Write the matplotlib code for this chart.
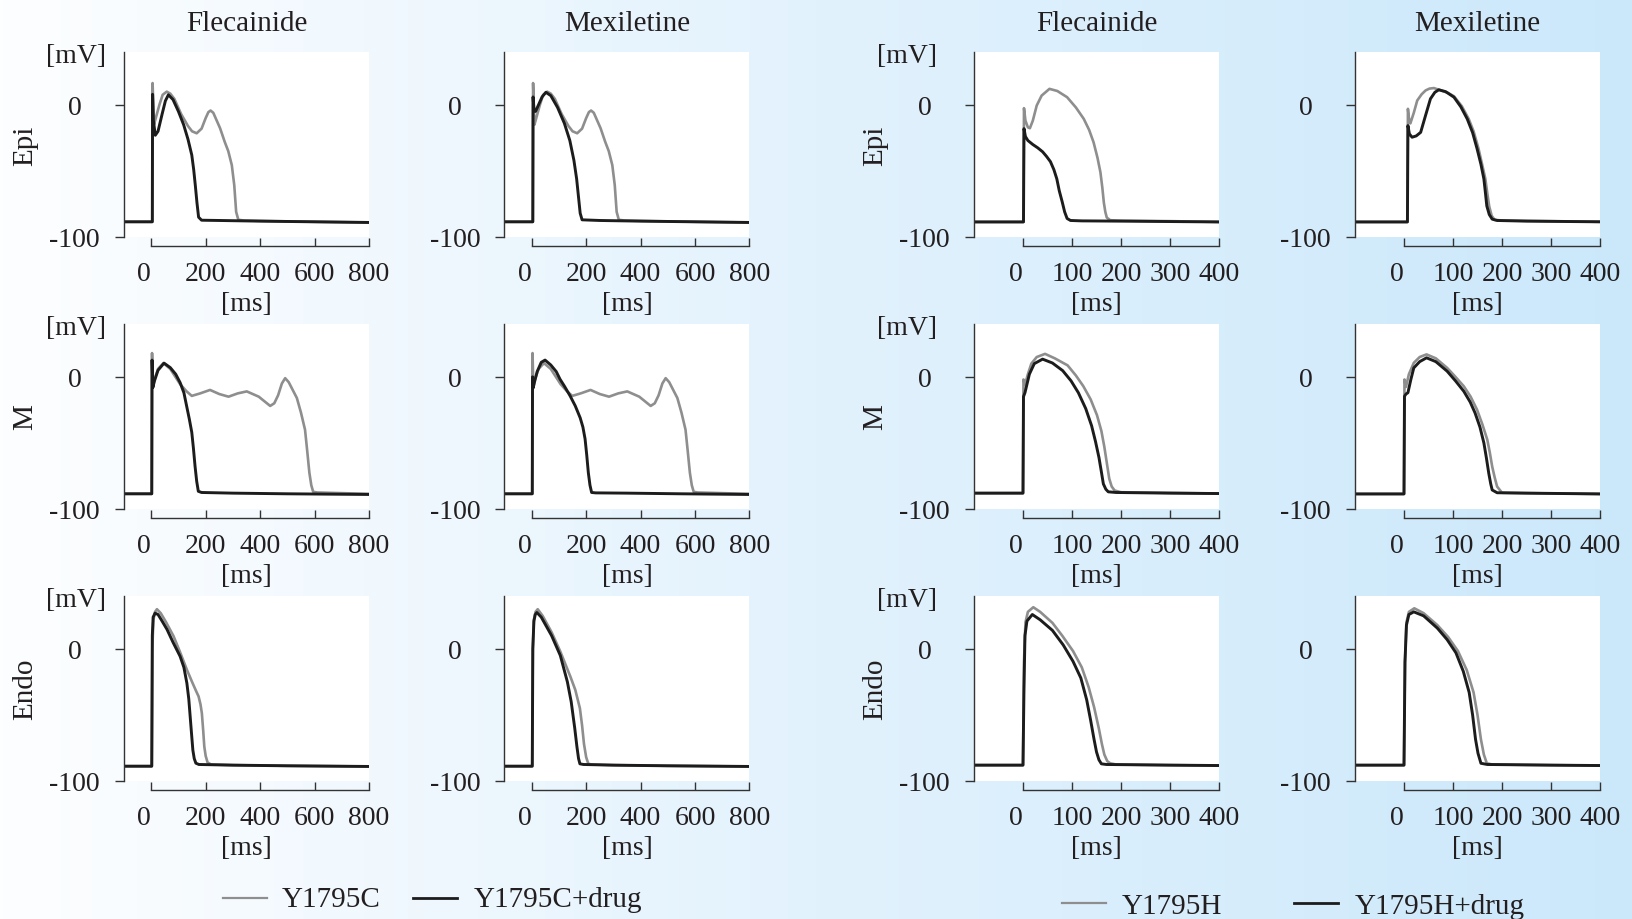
import numpy as np
import matplotlib
matplotlib.use("Agg")
import matplotlib.pyplot as plt
from matplotlib.lines import Line2D
from matplotlib.transforms import ScaledTranslation

plt.rcParams['font.family'] = ['Liberation Serif', 'DejaVu Serif']
plt.rcParams['axes.unicode_minus'] = False

TXT = '#231f20'
GRAY = '#8e8e8e'
BLACK = '#1c1c1c'

# ---------------- Y1795C (left block, 0..800 ms) ----------------
# Epi, no drug (same trace in Flecainide and Mexiletine panels)
epi_c_t = [-100, 4, 5, 7, 10, 18, 30, 42, 57, 70, 85, 110, 135, 150, 167, 185, 200, 210,
           218, 228, 253, 270, 283, 296, 305, 312, 320, 340, 450, 600, 800]
epi_c_v = [-88.5, -88.5, 16.5, 4, -15, -9, 0, 7.6, 10, 8.5, 4.5, -7, -16, -20, -21.5, -18, -10, -5.5,
           -4.3, -6, -17.7, -28, -35, -45.6, -60.7, -81, -87, -87.5, -88, -88.5, -89]
# Epi + flecainide
epi_c_flec_t = [-100, 4, 5, 8, 15, 25, 40, 52, 63, 80, 100, 119, 135, 149, 156, 162, 168, 174,
                185, 250, 400, 600, 800]
epi_c_flec_v = [-88.5, -88.5, 8, -12, -23, -20, -7, 3, 7.6, 4, -5, -15, -26, -38, -49, -61, -74, -85,
                -87.3, -87.5, -88, -88.5, -89]
# Epi + mexiletine
epi_c_mex_t = [-100, 4, 5, 8, 14, 25, 38, 52, 70, 95, 120, 140, 155, 165, 172, 178, 185, 250,
               400, 600, 800]
epi_c_mex_v = [-88.5, -88.5, 6, -3, -5, 0, 6, 9.5, 7, -2, -14, -27, -42, -56, -70, -82, -87, -87.5,
               -88, -88.5, -89]

# M, no drug
m_c_t = [-100, 2, 3, 6, 12, 25, 45, 70, 106, 130, 149, 180, 216, 250, 284, 318, 351, 395, 437,
         452, 466, 480, 492, 505, 520, 535, 550, 565, 573, 581, 588, 595, 610, 700, 800]
m_c_v = [-88.5, -88.5, 18, -8, -2, 6, 10.4, 6, -5.5, -11, -14.4, -12.5, -9.9, -13, -15, -12.5, -11, -15, -22,
         -20, -14, -5, -1, -4, -10, -16, -27, -40, -56, -72.6, -82, -87, -87.5, -88, -88.5]
# M + flecainide
m_c_flec_t = [-100, 2, 3, 6, 12, 25, 47, 70, 90, 106, 120, 130, 140, 149, 155, 161, 167, 173,
              185, 300, 500, 800]
m_c_flec_v = [-88.5, -88.5, 12.7, -8, -3, 5, 10.4, 7, 2, -4.3, -12, -22, -32, -42, -54, -67.6, -79, -86.6,
              -87.5, -88, -88.5, -89]
# M + mexiletine
m_c_mex_t = [-100, 2, 3, 5, 10, 20, 35, 49, 70, 90, 104, 120, 141, 160, 178, 188, 196, 202, 208,
             214, 220, 235, 350, 550, 800]
m_c_mex_v = [-88.5, -88.5, 0, -8.5, -4, 4, 11, 12.7, 9, 4, -1.8, -7, -14.4, -22, -31, -38, -47, -59, -72.6,
             -82, -87.5, -87.8, -88, -88.5, -89]

# Endo, no drug (Flecainide panel / Mexiletine panel)
endo_c_t = [-100, 2, 4, 8, 14, 21, 35, 55, 82, 105, 131, 150, 165, 174, 181, 186, 191, 195, 200,
            207, 220, 300, 500, 800]
endo_c_v = [-88.8, -88.8, 0, 22, 28, 30, 27, 20, 9.6, -2, -15.8, -25, -32, -36, -42, -48.7, -62, -74, -81,
            -86, -87.5, -88, -88.5, -89]
endo_c_flec_t = [-100, 2, 4, 7, 14, 25, 40, 58, 80, 106, 120, 131, 138, 143, 148, 153, 158, 164,
                 175, 300, 500, 800]
endo_c_flec_v = [-88.8, -88.8, 10, 24, 27, 26, 21, 14.7, 5, -5.6, -14, -26, -38, -51, -64, -76.7, -83, -86.5,
                 -87.5, -88, -88.5, -89]
endo_c2_t = [-100, 2, 4, 8, 14, 22, 40, 73, 105, 142, 160, 177, 185, 192, 200, 208, 220, 300, 500, 800]
endo_c2_v = [-88.8, -88.8, 0, 22, 28, 30, 25, 12.6, -2, -21, -31, -45, -58, -72, -82, -87, -87.5, -88,
             -88.5, -89]
endo_c_mex_t = [-100, 2, 4, 8, 13, 19, 35, 73, 105, 131, 145, 158, 166, 172, 177, 190, 300, 500, 800]
endo_c_mex_v = [-88.8, -88.8, 0, 21, 26, 27.5, 24, 10, -5, -25, -40, -60, -74, -83, -87, -87.5, -88,
                -88.5, -89]

# ---------------- Y1795H (right block, 0..400 ms) ----------------
epi_h1_t = [-100, 1, 2, 5, 10, 14, 20, 28, 38, 54, 70, 90, 108, 124, 135, 144, 152, 158, 162,
            165, 168, 171, 178, 200, 300, 400]
epi_h1_v = [-88.6, -88.6, -2.5, -12, -17, -17.7, -12, -0.5, 7, 12.1, 10.5, 5.8, -2, -10.6, -19, -28.3, -40,
            -51, -63, -74, -81, -85.3, -87.3, -87.6, -88, -88.6]
epi_h_flec_t = [-100, 1, 2, 5, 10, 20, 30, 40, 48, 56, 63, 69, 74, 80, 85, 90, 97, 120, 200, 300, 400]
epi_h_flec_v = [-88.6, -88.6, -18, -24, -27, -30, -32.5, -35.5, -39, -43, -49, -56, -65, -73.4, -81, -86,
                -87.5, -87.8, -88, -88.3, -88.6]
epi_h2_t = [-100, 7, 8, 10, 13, 20, 27, 36, 44, 52, 61, 75, 90, 102, 118, 132, 142, 152, 160,
            166, 170, 174, 179, 185, 200, 300, 400]
epi_h2_v = [-88.6, -88.6, -3, -10, -14, -6, 3.3, 8, 10.9, 12.3, 12.7, 11, 9, 6.5, -1, -10.6, -20, -33, -46,
            -56, -67, -77, -84, -87, -87.5, -88, -88.5]
epi_h_mex_t = [-100, 7, 8, 11, 16.5, 25, 34, 44, 54, 63, 71, 85, 102, 116, 129, 140, 149, 157,
               163, 166, 169, 174, 180, 190, 250, 400]
epi_h_mex_v = [-88.6, -88.6, -15.7, -22, -24.5, -23.5, -20.8, -8, 4.6, 9.5, 11.4, 10, 5.8, -1.5, -10.6, -21,
               -33, -45, -56, -66, -76.5, -83, -86.5, -87.5, -88, -88.5]

m_h1_t = [-100, 0, 1, 4, 10, 17, 28, 45, 65, 91, 108, 123, 138, 151, 160, 166, 171, 176, 181,
          187, 200, 300, 400]
m_h1_v = [-88, -88, -2, -6, 2, 10, 15, 17.4, 14, 8.7, 1, -7, -17, -29, -41, -53, -65, -77, -83, -86,
          -87.3, -87.8, -88.3]
m_h_flec_t = [-100, 0, 1, 4, 13, 23, 40, 60, 81, 98, 113, 128, 140, 148, 155, 160, 164, 169, 174,
              190, 300, 400]
m_h_flec_v = [-88, -88, -15, -12, 2, 10, 13.4, 10.5, 4.7, -3, -12, -24, -37, -49, -61, -72, -81, -85, -87,
              -87.5, -88, -88.3]
m_h2_t = [-100, 0, 1, 4, 10, 20, 32, 46, 65, 88, 105, 122, 136, 149, 160, 170, 175, 180, 185,
          190, 200, 250, 400]
m_h2_v = [-88.6, -88.6, -2, -7.6, 2, 10.6, 15, 17, 14, 6.8, 0, -7.1, -15, -24.8, -36, -47.6, -57, -67.9,
          -76, -83, -87.7, -88, -88.6]
m_h_mex_t = [-100, 0, 1, 4, 8, 14, 20, 32, 46, 65, 88, 105, 122, 135, 145, 155, 163, 168, 173,
             177, 180, 190, 250, 400]
m_h_mex_v = [-88.6, -88.6, -14.7, -13, -12, -2, 6.8, 11.5, 14.4, 11.5, 4.3, -3, -10.9, -19, -27.3, -38,
             -50, -61, -73, -81, -85.6, -87.7, -88, -88.6]

endo_h1_t = [-100, 0, 2, 5, 10, 21, 35, 60, 80, 102, 120, 134, 145, 155, 161, 166, 172, 178,
             190, 300, 400]
endo_h1_v = [-88, -88, -10, 20, 28, 31.5, 28, 19.7, 10, -1.6, -14, -29, -44, -60.6, -72, -80, -85, -86.6,
             -87.5, -88, -88.3]
endo_h_flec_t = [-100, 0, 2, 4, 8, 19, 35, 60, 82, 102, 118, 130, 138, 145, 150, 155, 160, 170,
                 300, 400]
endo_h_flec_v = [-88, -88, -30, 10, 21, 26, 22, 14, 3, -9.4, -22, -38.6, -54, -68.5, -78, -84, -87,
                 -87.5, -88, -88.3]
endo_h2_t = [-100, 0, 2, 5, 10, 21, 40, 68, 90, 110, 128, 142, 150, 157, 163, 169, 180, 300, 400]
endo_h2_v = [-88, -88, -10, 20, 28, 30.7, 27, 18, 9, -1.6, -16, -33, -50, -68.5, -80, -86.6, -87.5, -88,
             -88.3]
endo_h_mex_t = [-100, 0, 2, 5, 10, 20, 40, 68, 88, 106, 121, 133, 140, 146, 151, 157, 170, 300, 400]
endo_h_mex_v = [-88, -88, -10, 18, 26, 28, 25, 15.7, 7, -3, -17, -33, -50, -68.5, -79, -86.6, -87.5,
                -88, -88.3]

titles = ['Flecainide', 'Mexiletine', 'Flecainide', 'Mexiletine']
rows = ['Epi', 'M', 'Endo']
xticks_c = [0, 200, 400, 600, 800]
xticks_h = [0, 100, 200, 300, 400]
yticks = [-100, 0]
ytick_labels = ['-100', '0']

# (row, col, gray trace, black trace)
panels = [
    (0, 0, (epi_c_t, epi_c_v), (epi_c_flec_t, epi_c_flec_v)),
    (0, 1, (epi_c_t, epi_c_v), (epi_c_mex_t, epi_c_mex_v)),
    (0, 2, (epi_h1_t, epi_h1_v), (epi_h_flec_t, epi_h_flec_v)),
    (0, 3, (epi_h2_t, epi_h2_v), (epi_h_mex_t, epi_h_mex_v)),
    (1, 0, (m_c_t, m_c_v), (m_c_flec_t, m_c_flec_v)),
    (1, 1, (m_c_t, m_c_v), (m_c_mex_t, m_c_mex_v)),
    (1, 2, (m_h1_t, m_h1_v), (m_h_flec_t, m_h_flec_v)),
    (1, 3, (m_h2_t, m_h2_v), (m_h_mex_t, m_h_mex_v)),
    (2, 0, (endo_c_t, endo_c_v), (endo_c_flec_t, endo_c_flec_v)),
    (2, 1, (endo_c2_t, endo_c2_v), (endo_c_mex_t, endo_c_mex_v)),
    (2, 2, (endo_h1_t, endo_h1_v), (endo_h_flec_t, endo_h_flec_v)),
    (2, 3, (endo_h2_t, endo_h2_v), (endo_h_mex_t, endo_h_mex_v)),
]

W, H = 1633, 920
fig = plt.figure(figsize=(W / 100, H / 100), dpi=100)

# background: white on the left fading to light blue on the right
bg = fig.add_axes([0, 0, 1, 1], zorder=-10)
xs = np.linspace(0, 1, 512)
stops = np.array([[253, 254, 255], [226, 242, 253], [203, 232, 251]]) / 255
grad = np.stack([np.interp(xs, [0, 0.5, 1], stops[:, k]) for k in range(3)], axis=-1)[None, :, :]
bg.imshow(grad, aspect='auto', extent=[0, 1, 0, 1])
bg.axis('off')

col_left = [124, 504.5, 974, 1355]
row_top = [53, 325, 597]
aw, ah = 245, 185

for r, c, gray, black in panels:
    ax = fig.add_axes([col_left[c] / W, 1 - (row_top[r] + ah) / H, aw / W, ah / H])
    ax.set_facecolor('white')
    ax.plot(gray[0], gray[1], color=GRAY, lw=1.9, solid_joinstyle='round')
    ax.plot(black[0], black[1], color=BLACK, lw=2.1, solid_joinstyle='round')

    xmax = 800 if c < 2 else 400
    xt = xticks_c if c < 2 else xticks_h
    ax.set_xlim(-100, xmax)
    ax.set_ylim(-100, 40)
    for s in ['top', 'right']:
        ax.spines[s].set_visible(False)
    for s in ['left', 'bottom']:
        ax.spines[s].set_color('#333333')
        ax.spines[s].set_linewidth(1.0)
    ax.spines['bottom'].set_position(('outward', 6.5))
    ax.spines['bottom'].set_bounds(0, xmax)

    ax.set_xticks(xt)
    ax.set_xticklabels([str(v) for v in xt])
    ax.set_yticks(yticks)
    ax.set_yticklabels(ytick_labels)
    ax.tick_params(axis='x', direction='in', length=6, width=1.0, pad=10.8,
                   labelsize=20, colors='#333333', labelcolor=TXT)
    ax.tick_params(axis='y', direction='out', length=6.5, width=1.0, pad=29,
                   labelsize=20, colors='#333333', labelcolor=TXT)
    plt.setp(ax.get_yticklabels(), ha='center')
    zero = ax.get_xticklabels()[0]
    zero.set_transform(zero.get_transform() + ScaledTranslation(-7 / 100, 0, fig.dpi_scale_trans))

    ax.set_xlabel('[ms]', fontsize=20, color=TXT)
    ax.xaxis.label.set_va('center')
    ax.xaxis.set_label_coords(0.5, -0.36)

    if r == 0:
        ax.text(0.5, 1 + 29 / ah, titles[c], transform=ax.transAxes, ha='center', va='center',
                fontsize=21, color=TXT)
    if c in (0, 2):
        ax.set_ylabel(rows[r], fontsize=21, color=TXT)
        ax.yaxis.label.set_va('center')
        ax.yaxis.set_label_coords(-0.404, 0.5)
        mvx = -0.196 if c == 0 else -0.273
        ax.text(mvx, 0.98, '[mV]', transform=ax.transAxes, ha='center', va='center',
                fontsize=20, color=TXT)

# legends
def legend_entry(x0, x1, y_line, x_text, y_base, label, color, lw):
    fig.add_artist(Line2D([x0 / W, x1 / W], [1 - y_line / H, 1 - y_line / H],
                          transform=fig.transFigure, color=color, lw=lw))
    fig.text(x_text / W, 1 - y_base / H, label, ha='left', va='baseline', fontsize=21, color=TXT)

legend_entry(223, 267, 899, 282, 907, 'Y1795C', GRAY, 1.6)
legend_entry(413, 457, 899, 474, 907, 'Y1795C+drug', BLACK, 2.0)
legend_entry(1062, 1106, 904, 1122, 914, 'Y1795H', GRAY, 1.6)
legend_entry(1294, 1338, 904, 1355, 914, 'Y1795H+drug', BLACK, 2.0)

fig.savefig('out.png', dpi=100)
